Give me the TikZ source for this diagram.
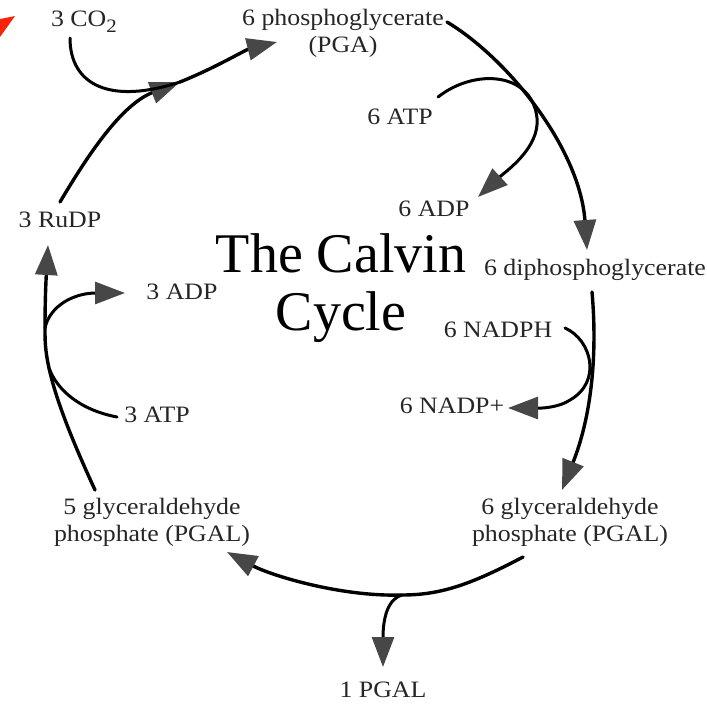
\documentclass[tikz,border=0pt]{standalone}
\usepackage{fontspec}
\setmainfont{Liberation Serif}[FakeStretch=1.1]
\newfontfamily\titlefont{Liberation Serif}
\usetikzlibrary{arrows.meta}
\definecolor{corner}{RGB}{250,35,5}

\begin{document}
\begin{tikzpicture}[x=1pt,y=-1pt,line width=3.4pt,line cap=round,
  >={Triangle[length=30pt,width=22pt,color=black!72]},
  lbl/.style={font=\fontsize{23.5}{27}\selectfont,align=center,inner sep=1pt,text=black!85},
  side/.style={line width=3pt}]
  \useasboundingbox (0,0) rectangle (707,704);
  \fill[corner] (0,19)--(15,16)--(0,37)--cycle;
  % labels round the cycle
  \node[lbl] (co2) at (84,22) {3 CO\raisebox{-6pt}{\fontsize{19}{19}\selectfont 2}};
  \node[lbl] (pga) at (343,33) {6 phosphoglycerate\\(PGA)};
  \node[lbl] (atpA) at (400,117) {6 ATP};
  \node[lbl] (adpA) at (434,209) {6 ADP};
  \node[lbl] (rudp) at (60,220) {3 RuDP};
  \node[font=\titlefont\fontsize{56}{58}\selectfont,align=center,text=black] (title) at (341,288) {The Calvin\\Cycle};
  \node[lbl] (dpga) at (595,270) {6 diphosphoglycerate};
  \node[lbl] (adpB) at (182,292) {3 ADP};
  \node[lbl] (nadph) at (498,330) {6 NADPH};
  \node[lbl] (nadp) at (452,406) {6 NADP+};
  \node[lbl] (atpB) at (157,415) {3 ATP};
  \node[lbl] (pgalL) at (152,522) {5 glyceraldehyde\\phosphate (PGAL)};
  \node[lbl] (pgalR) at (570,522) {6 glyceraldehyde\\phosphate (PGAL)};
  \node[lbl] (pgalO) at (383,690) {1 PGAL};
  % junctions
  \coordinate (jco2) at (180,82);
  \coordinate (jpgal) at (402,595);
  \coordinate (jatpB) at (49,368);
  \coordinate (jadpB) at (45,328);
  % RuDP -> PGA, CO2 joins
  \draw[->] ([shift={(0,-18)}]rudp.center) .. controls (85,160) and (120,105) .. (jco2);
  \draw[->] (jco2) .. controls (215,68) and (245,50) .. ([shift={(-66,9)}]pga.center);
  \draw[side] ([shift={(-14,16)}]co2.center) .. controls (70,85) and (110,105) .. (jco2);
  % PGA -> diphosphoglycerate, ATP -> ADP
  \draw[->] ([shift={(104,-11)}]pga.center) .. controls (510,60) and (580,150) .. ([shift={(-8,-20)}]dpga.center);
  \draw[side,->] ([shift={(38,-20)}]atpA.center) .. controls (475,68) and (532,72) .. (537,118)
    .. controls (540,148) and (505,172) .. ([shift={(44,-12)}]adpA.center);
  % diphosphoglycerate -> PGAL, NADPH -> NADP+
  \draw[->] ([shift={(-3,22)}]dpga.center) .. controls (598,360) and (590,420) .. ([shift={(-8,-32)}]pgalR.center);
  \draw[side,->] ([shift={(67,-2)}]nadph.center) .. controls (592,340) and (602,382) .. (570,400)
    .. controls (555,410) and (530,408) .. ([shift={(56,2)}]nadp.center);
  % PGAL -> PGAL, one leaves
  \draw[->] ([shift={(-47,35)}]pgalR.center) .. controls (470,585) and (440,595) .. (jpgal)
    .. controls (340,597) and (270,575) .. ([shift={(75,30)}]pgalL.center);
  \draw[side,->] (jpgal) .. controls (385,600) and (383,625) .. ([shift={(0,-23)}]pgalO.center);
  % PGAL -> RuDP, ATP in, ADP out
  \draw[->] ([shift={(-57,-32)}]pgalL.center) .. controls (72,440) and (56,400) .. (jatpB)
    .. controls (45,350) and (45,340) .. (jadpB) .. controls (45,300) and (46,280) .. ([shift={(-12,25)}]rudp.center);
  \draw[side] ([shift={(-40,2)}]atpB.center) .. controls (80,410) and (57,390) .. (jatpB);
  \draw[side,->] (jadpB) .. controls (50,305) and (75,293) .. ([shift={(-57,1)}]adpB.center);
\end{tikzpicture}
\end{document}
